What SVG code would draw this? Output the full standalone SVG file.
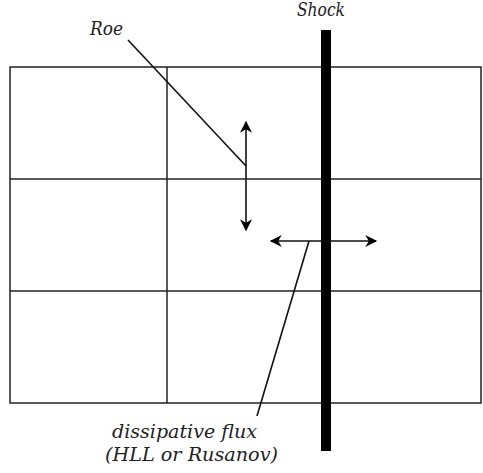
<svg xmlns="http://www.w3.org/2000/svg" width="483" height="473" viewBox="0 0 483 473">
<defs>
<marker id="ah" viewBox="0 0 10 10" refX="9" refY="5" markerWidth="13" markerHeight="12" markerUnits="userSpaceOnUse" orient="auto">
<path d="M0,0 L10,5 L0,10 L3,5 Z" fill="#000"/>
</marker>
<style>
.grid{fill:none;stroke:#222;stroke-width:1.5}
.ln{stroke:#111;stroke-width:1.6;fill:none}
.lbl{font-family:"DejaVu Serif","Liberation Serif",serif;font-style:italic;font-size:18px;fill:#222}
</style>
</defs>
<rect width="483" height="473" fill="#fff"/>
<g id="grid">
<rect class="grid" x="10" y="67" width="471" height="336"/>
<line class="grid" x1="10" y1="179" x2="481" y2="179"/>
<line class="grid" x1="10" y1="291" x2="481" y2="291"/>
<line class="grid" x1="167" y1="67" x2="167" y2="403"/>
</g>
<g id="shock">
<rect x="321" y="30" width="10" height="421" fill="#000"/>
<text class="lbl" x="297" y="16" textLength="48" lengthAdjust="spacingAndGlyphs">Shock</text>
</g>
<g id="roe">
<text class="lbl" x="90" y="35" textLength="33" lengthAdjust="spacingAndGlyphs">Roe</text>
</g>
<g id="dissipative">
<text class="lbl" x="112" y="438" textLength="145" lengthAdjust="spacingAndGlyphs">dissipative flux</text>
<text class="lbl" x="105" y="461" textLength="173" lengthAdjust="spacingAndGlyphs">(HLL or Rusanov)</text>
</g>
<g id="connectors">
<line class="ln" x1="128" y1="40" x2="246" y2="166"/>
<line class="ln" x1="246" y1="179" x2="246" y2="122" marker-end="url(#ah)"/>
<line class="ln" x1="246" y1="179" x2="246" y2="230" marker-end="url(#ah)"/>
<line class="ln" x1="323" y1="241" x2="271" y2="241" marker-end="url(#ah)"/>
<line class="ln" x1="323" y1="241" x2="376" y2="241" marker-end="url(#ah)"/>
<line class="ln" x1="309" y1="241" x2="257" y2="416"/>
</g>
</svg>
